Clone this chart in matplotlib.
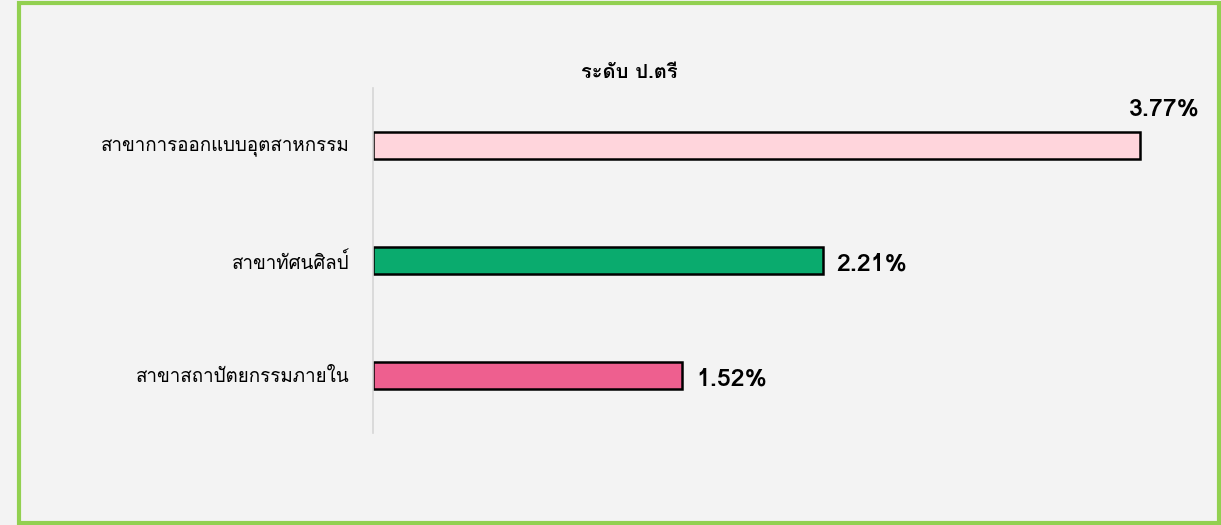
import matplotlib
matplotlib.use('Agg')
import matplotlib.pyplot as plt
import matplotlib.font_manager as fm
from matplotlib.ft2font import FT2Font
from matplotlib.patches import Rectangle

# ---------------------------------------------------------------
# data
# ---------------------------------------------------------------
categories = ['สาขาการออกแบบอุตสาหกรรม', 'สาขาทัศนศิลป์', 'สาขาสถาปัตยกรรมภายใน']
values = [3.77, 2.21, 1.52]
colors = ['#ffd5dc', '#0aab6e', '#ee5f8f']
title = 'ระดับ ป.ตรี'

# ---------------------------------------------------------------
# find a font that has Thai glyphs
# ---------------------------------------------------------------
thai_font = None
for f in fm.fontManager.ttflist:
    try:
        if 0x0E2A in FT2Font(f.fname).get_charmap():
            thai_font = f.name
            break
    except Exception:
        pass
families = [thai_font, 'DejaVu Sans'] if thai_font else ['DejaVu Sans']
plt.rcParams['font.family'] = families

# ---------------------------------------------------------------
# plot
# ---------------------------------------------------------------
fig = plt.figure(figsize=(12.21, 5.25), dpi=100)
fig.patch.set_facecolor('#f3f3f3')
fig.patches.append(Rectangle((19 / 1221, 2 / 525), 1200 / 1221, 520 / 525,
                             transform=fig.transFigure, fill=False,
                             edgecolor='#92d050', linewidth=3))

ax = fig.add_axes([373 / 1221, 92 / 525, 777 / 1221, 345 / 525])
ax.set_facecolor('none')

y = list(range(len(categories)))
ax.barh(y, values, height=0.235, color=colors, edgecolor='black', linewidth=1.8)
ax.set_ylim(2.5, -0.5)
ax.set_xlim(0, 3.82)

for i, v in enumerate(values):
    if i == 0:
        ax.text(v + 0.12, i - 0.22, f'{v:.2f}%', ha='center', va='bottom',
                fontsize=18, fontweight='heavy')
    else:
        ax.text(v + 0.07, i + 0.03, f'{v:.2f}%', ha='left', va='center',
                fontsize=18, fontweight='heavy')

ax.set_yticks(y)
ax.set_yticklabels(categories, fontsize=13.5)
ax.tick_params(axis='y', length=0, pad=17)
ax.set_xticks([])
for s in ['top', 'right', 'bottom']:
    ax.spines[s].set_visible(False)
ax.spines['left'].set_color('#d6d6d6')
ax.spines['left'].set_linewidth(1.2)

fig.text(629 / 1221, 1 - 72 / 525, title, ha='center', va='center',
         fontsize=14.5, fontweight='bold')

fig.savefig('out.png', dpi=100, facecolor=fig.get_facecolor())
